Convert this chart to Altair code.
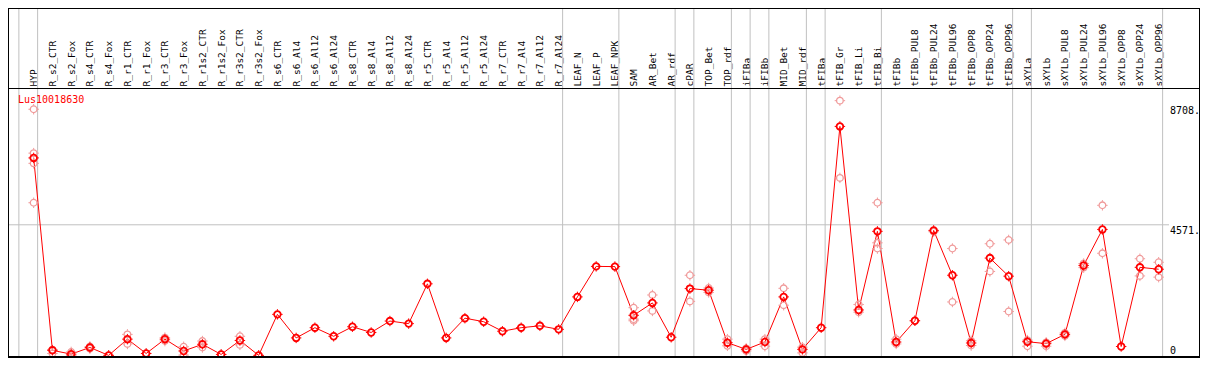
import altair as alt
import pandas as pd

gene = "Lus10018630"

categories = [
    "HYP", "R_s2_CTR", "R_s2_Fox", "R_s4_CTR", "R_s4_Fox", "R_r1_CTR", "R_r1_Fox",
    "R_r3_CTR", "R_r3_Fox", "R_r1s2_CTR", "R_r1s2_Fox", "R_r3s2_CTR", "R_r3s2_Fox",
    "R_s6_CTR", "R_s6_Al4", "R_s6_Al12", "R_s6_Al24", "R_s8_CTR", "R_s8_Al4",
    "R_s8_Al12", "R_s8_Al24", "R_r5_CTR", "R_r5_Al4", "R_r5_Al12", "R_r5_Al24",
    "R_r7_CTR", "R_r7_Al4", "R_r7_Al12", "R_r7_Al24", "LEAF_N", "LEAF_P", "LEAF_NPK",
    "SAM", "AR_Bet", "AR_rdf", "cPAR", "TOP_Bet", "TOP_rdf", "iFIBa", "iFIBb",
    "MID_Bet", "MID_rdf", "tFIBa", "tFIB_Gr", "tFIB_Li", "tFIB_Bi", "tFIBb",
    "tFIBb_PUL8", "tFIBb_PUL24", "tFIBb_PUL96", "tFIBb_OPP8", "tFIBb_OPP24",
    "tFIBb_OPP96", "sXYLa", "sXYLb", "sXYLb_PUL8", "sXYLb_PUL24", "sXYLb_PUL96",
    "sXYLb_OPP8", "sXYLb_OPP24", "sXYLb_OPP96",
]

means = [
    6883, 231, 99, 330, 56, 617, 122, 617, 208, 439, 89, 571, 56,
    1474, 660, 1013, 716, 1046, 848, 1243, 1154, 2530, 660, 1342, 1220,
    891, 1013, 1078, 956, 2078, 3133, 3125,
    1441, 1870, 683, 2365, 2309, 495, 264, 518, 2078, 264,
    1013, 7972, 1626, 4344, 518, 1253, 4377, 2826, 485, 3420, 2794,
    528, 462, 782, 3166, 4410, 363, 3100, 3034,
]

replicates = [
    [8565, 7048, 6695, 5333], [254, 122], [175, 56], [363, 287], [60],
    [782, 452], [122], [670, 551], [353, 66], [551, 330], [89], [716, 419], [56],
    [], [], [], [], [], [], [], [], [], [], [], [], [], [], [], [], [], [], [],
    [1705, 1309, 1253], [2144, 1593], [], [2826, 1923], [2385, 2233],
    [617, 386], [297, 208], [617, 373], [2375, 1791], [340, 142],
    [], [8862, 6191], [1814, 1550], [5333, 3948, 3750], [617, 452],
    [1253], [4331], [3750, 1903], [561, 396], [3915, 2958], [4047, 1573],
    [584, 373], [505, 373], [834, 730], [3232, 3090], [5244, 3585], [],
    [3397, 2803], [3275, 2761],
]

tick_values = [8708, 4571]
tick_labels = ["8708.", "4571."]
zero_value = [0]
zero_label = ["0"]
grid_values = [4571]

separator_after = [
    "HYP", "R_r7_Al24", "LEAF_NPK", "AR_rdf", "cPAR", "TOP_rdf", "iFIBa",
    "iFIBb", "MID_rdf", "tFIBa", "tFIB_Bi", "tFIBb_OPP96", "sXYLa", "sXYLb_OPP96",
]

# ---- tables ----
mean_df = pd.DataFrame({"cat": categories, "val": means})
rep_rows = [(c, v) for c, reps in zip(categories, replicates) for v in reps]
rep_df = pd.DataFrame(rep_rows, columns=["cat", "val"])
sep_df = pd.DataFrame({"cat": separator_after})
first_df = pd.DataFrame({"cat": [categories[0]]})
tick_df = pd.DataFrame({"val": tick_values, "lab": tick_labels})
zero_df = pd.DataFrame({"val": zero_value, "lab": zero_label})
grid_df = pd.DataFrame({"val": grid_values})
title_df = pd.DataFrame({"t": [gene]})

W, H, HEAD = 1192, 270, 80
STEP = 18.75
X0 = 25.66
X1 = X0 + STEP * (len(categories) - 1)
SEP_OFF = 3.95
MONO = "DejaVu Sans Mono"
GRAY = "#c0c0c0"

xscale = alt.Scale(type="point", domain=categories, range=[X0, X1], padding=0)
xaxis = alt.Axis(
    orient="top", labelAngle=270, labelAlign="left", labelBaseline="middle",
    labelPadding=2, ticks=False, tickSize=0, domain=False, grid=False,
    labelFont=MONO, labelFontSize=9.5, labelColor="black", labelOverlap=False,
    labelFlush=False, labelBound=False, title=None,
)
X = alt.X("cat:N", scale=xscale, axis=xaxis, title=None)
yscale = alt.Scale(domain=[0, 9300], range=[269, 0], nice=False, zero=False)
Y = alt.Y("val:Q", scale=yscale, axis=None)

tick_shape = "M0,-1L0,-1.45M0,1L0,1.45M-1,0L-1.45,0M1,0L1.45,0"

seps = alt.Chart(sep_df).mark_rule(color=GRAY, strokeWidth=1, xOffset=SEP_OFF).encode(
    x=X, y=alt.value(-HEAD), y2=alt.value(H))
first_sep = alt.Chart(first_df).mark_rule(
    color=GRAY, strokeWidth=1, xOffset=SEP_OFF - STEP).encode(
    x=X, y=alt.value(-HEAD), y2=alt.value(H))

grid = alt.Chart(grid_df).mark_rule(color=GRAY, strokeWidth=1).encode(
    y=Y, x=alt.value(0), x2=alt.value(1161))

line = alt.Chart(mean_df).mark_line(color="#ff0000", strokeWidth=1).encode(x=X, y=Y)

REP_COL = "#f09a9a"
reps = alt.Chart(rep_df).mark_point(
    shape="circle", size=44, filled=False, color=REP_COL, strokeWidth=1.3, opacity=1
).encode(x=X, y=Y)
reps_t = alt.Chart(rep_df).mark_point(
    shape=tick_shape, size=52, filled=False, color=REP_COL, strokeWidth=1, opacity=1
).encode(x=X, y=Y)

pts = alt.Chart(mean_df).mark_point(
    shape="circle", size=44, filled=False, color="#ff0000", strokeWidth=1.8, opacity=1
).encode(x=X, y=Y)
pts_t = alt.Chart(mean_df).mark_point(
    shape=tick_shape, size=52, filled=False, color="#ff0000", strokeWidth=1, opacity=1
).encode(x=X, y=Y)

ticks_txt = alt.Chart(tick_df).mark_text(
    font=MONO, fontSize=10, align="left", baseline="top", dy=1, color="black"
).encode(y=Y, x=alt.value(1162), text="lab:N")
zero_txt = alt.Chart(zero_df).mark_text(
    font=MONO, fontSize=10, align="left", baseline="bottom", dy=-1, color="black"
).encode(y=Y, x=alt.value(1162), text="lab:N")

title_txt = alt.Chart(title_df).mark_text(
    font=MONO, fontSize=10, align="left", baseline="middle", color="#ff0000"
).encode(x=alt.value(10), y=alt.value(11.5), text="t:N")

# borders
border_top = alt.Chart(title_df).mark_rule(color="black", strokeWidth=1).encode(
    x=alt.value(0), x2=alt.value(W), y=alt.value(-HEAD + 0.5))
border_head = alt.Chart(title_df).mark_rule(color="black", strokeWidth=1).encode(
    x=alt.value(0), x2=alt.value(W), y=alt.value(0.5))
border_bottom = alt.Chart(title_df).mark_rule(color="black", strokeWidth=2).encode(
    x=alt.value(0), x2=alt.value(W), y=alt.value(H - 1))
border_left = alt.Chart(title_df).mark_rule(color="black", strokeWidth=1).encode(
    x=alt.value(0.5), y=alt.value(-HEAD), y2=alt.value(H))
border_right = alt.Chart(title_df).mark_rule(color="black", strokeWidth=1).encode(
    x=alt.value(W - 0.5), y=alt.value(-HEAD), y2=alt.value(H))

chart = alt.layer(
    first_sep, seps, grid, line, reps, reps_t, pts, pts_t, ticks_txt, zero_txt,
    title_txt, border_top, border_head, border_bottom, border_left, border_right,
).properties(
    width=W, height=H,
    autosize=alt.AutoSizeParams(type="none"),
    padding={"left": 0, "top": HEAD, "right": 0, "bottom": 0},
    background="white",
).configure_view(stroke=None)

chart.save("out.html", embed_options={"renderer": "svg", "actions": False})
